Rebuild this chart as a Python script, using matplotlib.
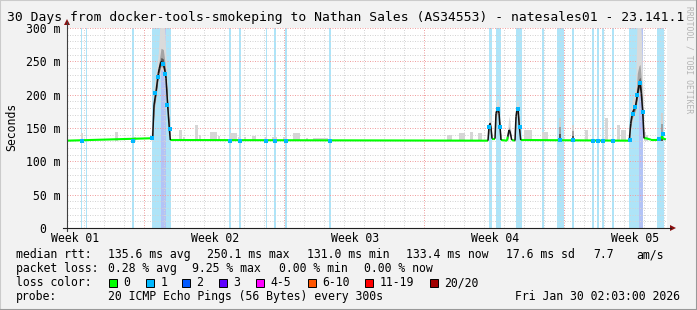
import numpy as np
import matplotlib
matplotlib.use("Agg")
import matplotlib.pyplot as plt
from matplotlib.collections import LineCollection
from matplotlib.lines import Line2D
from matplotlib.patches import Rectangle, Polygon
from matplotlib.transforms import ScaledTranslation

W, H = 697, 310
MONO = "DejaVu Sans Mono"

# ---- data: time in days since start of the 30 day window, rtt in ms ----
median_t = [0.0, 4.2, 4.285, 4.35, 4.45, 4.565, 4.615, 4.7, 4.815, 4.9, 4.95, 5.035, 5.115, 5.165,
            21.05, 21.1, 21.15, 21.2, 21.25, 21.4, 21.45, 21.5, 21.55, 21.6, 21.65, 21.7,
            22.0, 22.035, 22.1, 22.15, 22.235, 22.4, 22.45, 22.5, 22.55, 22.615, 22.685,
            28.115, 28.185, 28.265, 28.35, 28.435, 28.515, 28.6, 28.65, 28.715, 28.785, 28.85,
            28.9, 29.2, 29.5, 29.7, 29.75, 29.8, 29.95]
median_ms = [131, 134.6, 137, 184.5, 204.5, 232, 239.5, 249.5, 247, 234.5, 224.5, 183, 149.5, 132,
             131, 152, 157, 150, 134, 134, 172, 177, 179.5, 172, 152, 132,
             131, 137, 147, 144.5, 132, 131, 167, 178, 179.5, 152, 132,
             131, 157, 172, 178, 184.5, 199.5, 214.5, 217, 202, 174.5, 134.5,
             135, 132.5, 132.5, 134, 138, 134, 133]

# median samples with 1 lost ping
loss1_t = [0.73, 3.3, 4.23, 4.4, 4.53, 4.78, 4.9, 5.01, 5.15, 8.15, 8.65, 9.95, 10.4, 10.95,
           13.15, 21.1, 21.53, 21.65, 22.53, 22.65, 24.65, 25.28, 26.3, 26.55, 26.8, 27.3,
           28.15, 28.28, 28.4, 28.52, 28.65, 28.78, 29.6, 29.82]
loss1_ms = [131, 131, 135.5, 202, 227, 245.5, 231, 184.5, 148.5, 131, 131, 131, 131, 131,
            131, 152, 178, 152, 178, 152, 132, 132, 131, 131, 131, 131,
            132, 170.5, 182, 199.5, 217, 173.5, 133.5, 140.5]

# loss background (start, end) in days
loss1_bands = [(0.70, 0.77), (0.93, 0.98), (3.27, 3.35), (4.27, 5.2), (8.1, 8.2), (8.6, 8.7),
               (9.93, 10.0), (10.33, 10.43), (10.9, 11.0), (13.1, 13.2), (21.1, 21.25),
               (21.45, 21.7), (22.45, 22.75), (23.75, 23.83), (24.5, 24.85), (25.25, 25.35),
               (26.25, 26.35), (26.5, 26.6), (26.75, 26.85), (27.25, 27.35), (28.1, 28.8),
               (29.5, 29.85)]
loss2_bands = [(4.68, 4.95), (28.58, 28.8)]

# light smoke bars above the baseline
smoke_t = [0.725, 2.475, 3.375, 5.675, 5.85, 6.475, 6.65, 7.325, 7.6, 8.325, 8.6, 8.9, 9.325,
           9.95, 10.375, 10.9, 11.475, 12.0, 12.65, 19.1, 19.75, 20.2, 20.65, 23.05, 23.9,
           25.95, 26.975, 27.575, 27.825, 28.9, 29.0]
smoke_w = [0.1, 0.15, 0.15, 0.15, 0.1, 0.15, 0.08, 0.35, 0.1, 0.3, 0.08, 0.08, 0.2,
           0.08, 0.25, 0.2, 0.35, 0.1, 0.75, 0.25, 0.3, 0.15, 0.2, 0.4, 0.3,
           0.15, 0.15, 0.15, 0.25, 0.1, 0.1]
smoke_top = [142.5, 144, 137, 147, 136.5, 154.5, 139.5, 144.5, 138, 142, 137, 137, 138,
             136.5, 137, 137, 143, 135, 135, 139.5, 142.5, 144.5, 142.5, 147, 144.5,
             147, 165, 154.5, 147, 144.5, 139.5]

# smoke spread around the latency peaks (times match median_t entries)
peak_t = [[4.2, 4.285, 4.35, 4.45, 4.565, 4.615, 4.7, 4.815, 4.9, 4.95, 5.035, 5.115, 5.165],
          [21.05, 21.1, 21.15, 21.2, 21.25],
          [21.4, 21.45, 21.5, 21.55, 21.6, 21.65, 21.7],
          [22.0, 22.035, 22.1, 22.15, 22.235],
          [22.4, 22.45, 22.5, 22.55, 22.615, 22.685],
          [28.115, 28.185, 28.265, 28.35, 28.435, 28.515, 28.6, 28.65, 28.715, 28.785, 28.85]]
peak_hi = [[140, 165, 210, 235, 262, 290, 330, 330, 290, 255, 210, 170, 138],
           [135, 165, 172, 165, 138],
           [138, 185, 192, 195, 185, 165, 135],
           [132, 150, 168, 160, 134],
           [134, 180, 190, 190, 165, 134],
           [136, 175, 192, 200, 215, 330, 330, 330, 290, 220, 150]]
peak_lo = [[131, 131, 170, 192, 220, 228, 238, 236, 222, 210, 170, 138, 131],
           [131, 142, 148, 142, 131],
           [131, 160, 168, 170, 162, 142, 131],
           [131, 131, 140, 138, 131],
           [131, 155, 168, 168, 142, 131],
           [131, 145, 160, 166, 172, 188, 200, 205, 190, 160, 131]]

spike_t = [24.65, 25.28, 29.75]
spike_top = [165, 154.5, 172.5]

week_labels = ["Week 01", "Week 02", "Week 03", "Week 04", "Week 05"]
week_pos = [0.4, 7.4, 14.4, 21.4, 28.4]

title = "30 Days from docker-tools-smokeping to Nathan Sales (AS34553) - natesales01 - 23.141.1"


def fx(x):
    return x / W


def fy(y):
    return 1 - y / H


fig = plt.figure(figsize=(W / 100, H / 100), dpi=100, facecolor="#f2f2f2")
ax = fig.add_axes([fx(67), fy(228), 600 / W, 200 / H])
ax.set_facecolor("white")
ax.set_xlim(0, 30)
ax.set_ylim(0, 300)
for s in ax.spines.values():
    s.set_visible(False)

# loss background
for a, b in loss1_bands:
    ax.axvspan(a, b, color="#aee4f8", lw=0, zorder=1)
for a, b in loss2_bands:
    ax.axvspan(a, b, color="#b3c3f6", lw=0, zorder=1.1)

# grid
for d in np.arange(0.85, 30, 1):
    major = abs((d - 3.85) % 7) < 1e-6
    ax.axvline(d, color="#f0a0a0" if major else "#d4d4d4", lw=0.72,
               ls=(0, (1, 1.5)), zorder=1.5)
for v in range(10, 301, 10):
    ax.axhline(v, color="#f0a0a0" if v % 50 == 0 else "#d4d4d4", lw=0.72,
               ls=(0, (1, 1.5)), zorder=1.5)

# smoke
ax.bar(smoke_t, np.array(smoke_top) - 131, width=smoke_w, bottom=131,
       color="#d6d6d6", lw=0, zorder=2)
shades = [(1.0, 1.0, "#dadada"), (0.6, 0.25, "#a4a4a4"), (0.3, 0.08, "#555555")]
for t, hi, lo in zip(peak_t, peak_hi, peak_lo):
    hi, lo = np.array(hi, float), np.array(lo, float)
    med = np.array([median_ms[median_t.index(v)] for v in t], float)
    for fl, fh, c in shades:
        ax.fill_between(t, med - (med - lo) * fl, med + (hi - med) * fh,
                        color=c, lw=0, zorder=2)
for f, c in [(1.0, "#d0d0d0"), (0.6, "#a0a0a0"), (0.3, "#555555")]:
    ax.bar(spike_t, (np.array(spike_top) - 131) * f, width=0.1, bottom=131,
           color=c, lw=0, zorder=2.1)

# median line, green while flat, black on the peaks
pts = np.column_stack([median_t, median_ms])
segs = np.stack([pts[:-1], pts[1:]], axis=1)
peak = np.maximum(pts[:-1, 1], pts[1:, 1]) >= 140
ax.add_collection(LineCollection(segs[~peak], colors="#00ff00", linewidths=1.5, zorder=3))
ax.add_collection(LineCollection(segs[peak], colors="#111111", linewidths=1.1, zorder=3.1))
ax.plot(loss1_t, loss1_ms, ls="none", marker="s", ms=2.3, mew=0, color="#00b8ff", zorder=4)

# ticks
ax.set_yticks(range(0, 301, 50))
ax.set_yticklabels(["0"] + [f"{v} m" for v in range(50, 301, 50)],
                   family=MONO, fontsize=8.3)
ax.set_xticks(week_pos)
ax.set_xticklabels(week_labels, family=MONO, fontsize=8.3)
ax.tick_params(axis="y", length=0, pad=4.6)
ax.tick_params(axis="x", length=0, pad=3.2)
zero_lab = ax.yaxis.get_major_ticks()[0].label1
zero_lab.set_transform(zero_lab.get_transform() + ScaledTranslation(-0.14, 0, fig.dpi_scale_trans))

# axes with arrows
fig.add_artist(Line2D([fx(67), fx(67)], [fy(231), fy(22)], color="#404040", lw=0.8))
fig.add_artist(Line2D([fx(63), fx(671)], [fy(228), fy(228)], color="#202020", lw=0.8))
fig.add_artist(Polygon([[fx(64), fy(25)], [fx(70), fy(25)], [fx(67), fy(19)]],
                       closed=True, color="#8b1010", lw=0))
fig.add_artist(Polygon([[fx(670), fy(225)], [fx(670), fy(231)], [fx(676), fy(228)]],
                       closed=True, color="#8b1010", lw=0))

# frame
fig.add_artist(Line2D([0, 0], [0, 1], color="#cbcbcb", lw=1.5))
fig.add_artist(Line2D([0, 1], [1, 1], color="#cbcbcb", lw=1.5))
fig.add_artist(Line2D([1, 1], [0, 1], color="#999999", lw=1.5))
fig.add_artist(Line2D([0, 1], [0, 0], color="#999999", lw=1.5))

# texts
fig.text(fx(7), fy(21.5), title, family=MONO, fontsize=9.4, va="baseline")
fig.text(fx(12), fy(127), "Seconds", family=MONO, fontsize=8.3, rotation=90,
         va="center", ha="center")
fig.text(fx(689), fy(60), "RRDTOOL / TOBI OETIKER", family=MONO, fontsize=5.8,
         rotation=270, va="center", ha="center", color="#b4b4b4")

lines = [
    (258.3, [(16, "median rtt:"), (107.6, "135.6 ms avg"), (206.7, "250.1 ms max"),
             (306.7, "131.0 ms min"), (405.8, "133.4 ms now"), (505.8, "17.6 ms sd"),
             (593, "7.7"), (636, "am/s")]),
    (272.3, [(16, "packet loss:"), (107.6, "0.28 % avg"), (192.4, "9.25 % max"),
             (279, "0.00 % min"), (364.4, "0.00 % now")]),
    (286.3, [(16, "loss color:")]),
    (300, [(16, "probe:"), (107.6, "20 ICMP Echo Pings (56 Bytes) every 300s")]),
]
for y, items in lines:
    for x, s in items:
        fig.text(fx(x), fy(y), s, family=MONO, fontsize=8.3, va="baseline")
fig.text(fx(680), fy(300), "Fri Jan 30 02:03:00 2026", family=MONO, fontsize=8.3,
         va="baseline", ha="right")

loss_names = ["0", "1", "2", "3", "4-5", "6-10", "11-19", "20/20"]
loss_colors = ["#00ff00", "#00b8ff", "#0059ff", "#5e00ff", "#ff00ff", "#ff5500", "#ff0000", "#a10000"]
box_x = [109, 145.8, 182, 219, 255.6, 307.6, 365.3, 430]
for bx, name, c in zip(box_x, loss_names, loss_colors):
    fig.add_artist(Rectangle((fx(bx), fy(287)), 8 / W, 8.5 / H, facecolor=c,
                             edgecolor="black", lw=0.7, transform=fig.transFigure))
    fig.text(fx(bx + 14.6), fy(286.3), name, family=MONO, fontsize=8.3, va="baseline")

fig.savefig("out.png", dpi=100, facecolor=fig.get_facecolor())
